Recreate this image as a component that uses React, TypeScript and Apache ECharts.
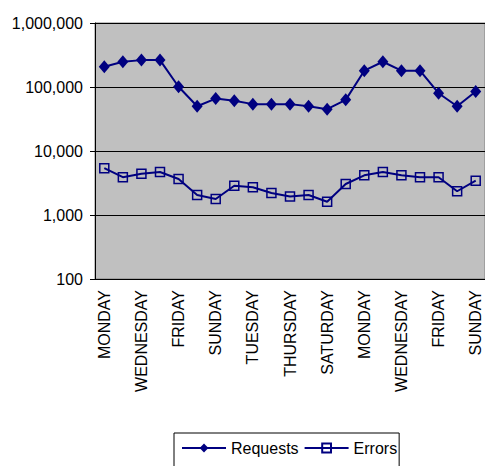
import React, { useEffect, useRef } from "react";
import * as echarts from "echarts";

const days: string[] = [
  "MONDAY", "TUESDAY", "WEDNESDAY", "THURSDAY", "FRIDAY", "SATURDAY", "SUNDAY",
  "MONDAY", "TUESDAY", "WEDNESDAY", "THURSDAY", "FRIDAY", "SATURDAY", "SUNDAY",
  "MONDAY", "TUESDAY", "WEDNESDAY", "THURSDAY", "FRIDAY", "SATURDAY", "SUNDAY",
];

const requests: number[] = [
  207000, 248000, 263000, 263000, 101000, 50000, 66000,
  61000, 54000, 54000, 54000, 50000, 45000, 63000,
  180000, 248000, 180000, 180000, 80000, 50000, 85000,
];

const errors: number[] = [
  5400, 3900, 4400, 4700, 3650, 2050, 1780,
  2870, 2710, 2210, 1950, 2050, 1610, 3050,
  4170, 4700, 4170, 3900, 3900, 2350, 3430,
];

const NAVY = "#000080";
const FONT = "'Liberation Sans', Arial, sans-serif";

export default function App() {
  const ref = useRef<HTMLDivElement>(null);

  useEffect(() => {
    if (!ref.current) return;
    const chart = echarts.init(ref.current, undefined, { renderer: "svg" });
    chart.setOption({
      animation: false,
      backgroundColor: "#ffffff",
      textStyle: { fontFamily: FONT },
      grid: {
        left: 95,
        right: -1,
        top: 23,
        bottom: 187,
        show: true,
        backgroundColor: "#c0c0c0",
        borderColor: "#808080",
        borderWidth: 1,
      },
      legend: {
        left: 174,
        top: 433,
        padding: [7, 2, 24, 7],
        itemGap: 5,
        itemWidth: 44,
        itemHeight: 11,
        borderColor: "#000000",
        borderWidth: 1,
        textStyle: { fontFamily: FONT, fontSize: 16, color: "#000000" },
        data: ["Requests", "Errors"],
      },
      xAxis: {
        type: "category",
        data: days,
        boundaryGap: true,
        axisLine: { lineStyle: { color: "#000000", width: 1 } },
        axisTick: { interval: 0, length: 5, lineStyle: { color: "#000000" } },
        axisLabel: {
          interval: 1,
          rotate: 90,
          margin: 11,
          fontSize: 16,
          fontFamily: FONT,
          color: "#000000",
        },
        splitLine: { show: false },
      },
      yAxis: {
        type: "log",
        logBase: 10,
        min: 100,
        max: 1000000,
        axisLine: { show: true, lineStyle: { color: "#000000", width: 1 } },
        axisTick: { show: true, length: 5, lineStyle: { color: "#000000" } },
        axisLabel: {
          margin: 12,
          fontSize: 16,
          fontFamily: FONT,
          color: "#000000",
          formatter: (v: number) => Math.round(v).toLocaleString("en-US"),
        },
        splitLine: { show: true, lineStyle: { color: "#000000", width: 1 } },
        minorTick: { show: false },
      },
      series: [
        {
          name: "Requests",
          type: "line",
          data: requests,
          symbol: "diamond",
          symbolSize: [11, 13],
          showAllSymbol: true,
          lineStyle: { color: NAVY, width: 2 },
          itemStyle: { color: NAVY },
          z: 3,
        },
        {
          name: "Errors",
          type: "line",
          data: errors,
          symbol: "rect",
          symbolSize: 9,
          showAllSymbol: true,
          lineStyle: { color: NAVY, width: 2 },
          itemStyle: { color: "rgba(0,0,0,0)", borderColor: NAVY, borderWidth: 1.5 },
          z: 3,
        },
      ],
    });
    return () => chart.dispose();
  }, []);

  return (
    <div
      ref={ref}
      style={{ position: "fixed", left: 0, top: 0, width: 485, height: 466 }}
    />
  );
}
